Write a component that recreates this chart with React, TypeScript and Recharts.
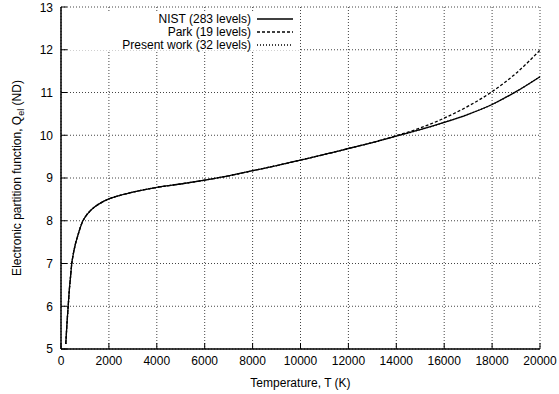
import React from "react";
import { LineChart, Line, XAxis, YAxis, CartesianGrid, Legend } from "recharts";

// temperature (K) and partition function values
const temps = [
  200, 250, 300, 350, 400, 450, 500, 600, 700, 800, 900, 1000, 1200, 1400, 1700,
  2000, 2500, 3000, 3500, 4000, 5000, 6000, 7000, 8000, 9000, 10000, 11000,
  12000, 13000, 14000, 15000, 16000, 17000, 18000, 19000, 20000,
];
const nistQ = [
  5.12, 5.6, 6.0, 6.4, 6.7, 7.0, 7.18, 7.45, 7.65, 7.83, 7.98, 8.08, 8.22, 8.32, 8.43,
  8.51, 8.6, 8.67, 8.73, 8.78, 8.86, 8.95, 9.05, 9.17, 9.29, 9.42, 9.55,
  9.69, 9.83, 9.98, 10.13, 10.3, 10.49, 10.72, 11.02, 11.37,
];
const parkQ = [
  5.12, 5.6, 6.0, 6.4, 6.7, 7.0, 7.18, 7.45, 7.65, 7.83, 7.98, 8.08, 8.22, 8.32, 8.43,
  8.51, 8.6, 8.67, 8.73, 8.78, 8.86, 8.95, 9.05, 9.17, 9.29, 9.42, 9.55,
  9.69, 9.83, 9.99, 10.17, 10.4, 10.68, 11.02, 11.45, 11.99,
];
const presentQ = [
  5.12, 5.6, 6.0, 6.4, 6.7, 7.0, 7.18, 7.45, 7.65, 7.83, 7.98, 8.08, 8.22, 8.32, 8.43,
  8.51, 8.6, 8.67, 8.73, 8.78, 8.86, 8.95, 9.05, 9.17, 9.29, 9.42, 9.55,
  9.69, 9.83, 9.98, 10.13, 10.3, 10.49, 10.72, 11.02, 11.37,
];

const xTicks = [0, 2000, 4000, 6000, 8000, 10000, 12000, 14000, 16000, 18000, 20000];
const yTicks = [5, 6, 7, 8, 9, 10, 11, 12, 13];

const series = [
  { key: "nist", name: "NIST (283 levels)", dash: undefined as string | undefined },
  { key: "park", name: "Park (19 levels)", dash: "3 2" },
  { key: "present", name: "Present work (32 levels)", dash: "1 2" },
];

const data = temps.map((T, i) => ({
  T,
  nist: nistQ[i],
  park: parkQ[i],
  present: presentQ[i],
}));

const font = "'Liberation Sans', Arial, Helvetica, sans-serif";

// key box: white background hides the grid behind it, like the gnuplot original
function KeyBox() {
  return (
    <div style={{ width: 232, height: 37, background: "#fff", overflow: "visible" }}>
      <svg width={232} height={37} style={{ display: "block", overflow: "visible" }}>
        {series.map((s, i) => (
          <g key={s.key}>
            <text
              x={183}
              y={10 + i * 13}
              textAnchor="end"
              fontSize={12}
              fontFamily={font}
              fill="#000"
            >
              {s.name}
            </text>
            <line
              x1={189}
              x2={225}
              y1={6 + i * 13}
              y2={6 + i * 13}
              stroke="#000"
              strokeWidth={1.3}
              strokeDasharray={s.dash}
            />
          </g>
        ))}
      </svg>
    </div>
  );
}

function YTitle(props: any) {
  const vb = props.viewBox || { y: 7, height: 342 };
  const cy = vb.y + vb.height / 2;
  return (
    <text
      transform={`rotate(-90)`}
      x={-cy}
      y={21}
      textAnchor="middle"
      fontSize={12}
      fontFamily={font}
      fill="#000"
    >
      Electronic partition function, Q
      <tspan dy={3} fontSize={9}>el</tspan>
      <tspan dy={-3}> (ND)</tspan>
    </text>
  );
}

export default function App() {
  return (
    <div style={{ position: "absolute", left: 0, top: 0, fontFamily: font }}>
      <LineChart
        width={559}
        height={394}
        data={data}
        margin={{ top: 7, right: 19, left: 0, bottom: 0 }}
      >
        <CartesianGrid stroke="#444" strokeDasharray="1 2" />
        <XAxis
          dataKey="T"
          type="number"
          domain={[0, 20000]}
          ticks={xTicks}
          height={45}
          tickSize={-6}
          tickMargin={13}
          axisLine={{ stroke: "#000", strokeWidth: 1.5 }}
          tickLine={{ stroke: "#000" }}
          tick={{ fill: "#000", fontSize: 12, fontFamily: font }}
          label={{
            value: "Temperature, T (K)",
            position: "insideBottom",
            offset: 7,
            fill: "#000",
            fontSize: 12,
            fontFamily: font,
          }}
        />
        <XAxis
          xAxisId="top"
          orientation="top"
          dataKey="T"
          type="number"
          domain={[0, 20000]}
          ticks={xTicks}
          height={0}
          tickSize={-6}
          axisLine={{ stroke: "#000", strokeWidth: 1.5 }}
          tickLine={{ stroke: "#000" }}
          tickFormatter={() => ""}
        />
        <YAxis
          type="number"
          domain={[5, 13]}
          ticks={yTicks}
          width={61}
          tickSize={-6}
          tickMargin={14}
          axisLine={{ stroke: "#000", strokeWidth: 1.5 }}
          tickLine={{ stroke: "#000" }}
          tick={{ fill: "#000", fontSize: 12, fontFamily: font }}
          label={{ content: YTitle }}
        />
        <YAxis
          yAxisId="right"
          orientation="right"
          type="number"
          domain={[5, 13]}
          ticks={yTicks}
          width={0}
          tickSize={-6}
          axisLine={{ stroke: "#000", strokeWidth: 1.5 }}
          tickLine={{ stroke: "#000" }}
          tickFormatter={() => ""}
        />
        <Legend
          layout="vertical"
          align="center"
          verticalAlign="middle"
          wrapperStyle={{ left: 68, top: 13, width: 232, height: 37, overflow: "visible" }}
          content={() => <KeyBox />}
        />
        {series.map((s) => (
          <Line
            key={s.key}
            dataKey={s.key}
            name={s.name}
            type="monotone"
            stroke="#000"
            strokeWidth={1.3}
            strokeDasharray={s.dash}
            dot={false}
            activeDot={false}
            isAnimationActive={false}
          />
        ))}
      </LineChart>
    </div>
  );
}
